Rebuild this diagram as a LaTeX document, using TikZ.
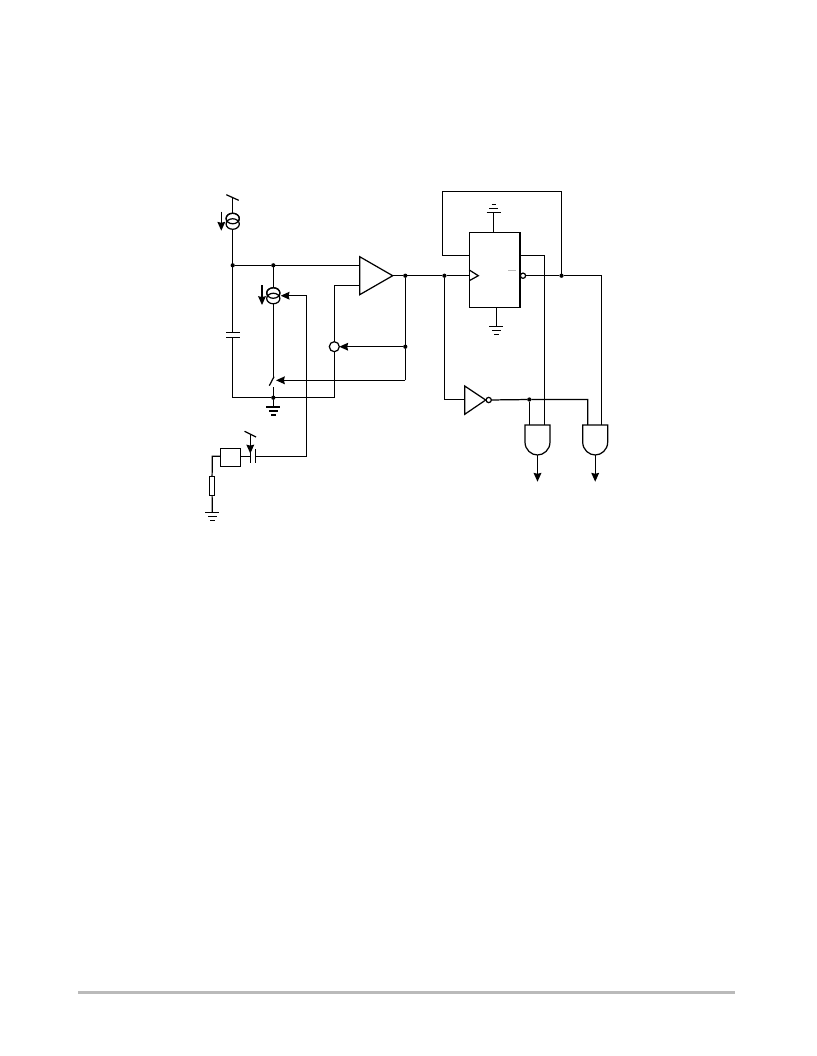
\documentclass[tikz,border=0pt]{standalone}
\usetikzlibrary{arrows.meta,shapes.geometric}
\definecolor{footgray}{gray}{0.73}
\tikzset{
    wire/.style={line width=0.7pt, line join=miter},
    flow/.style={wire, -{Stealth[length=5pt,width=4.4pt,inset=0.5pt]}},
    dot/.style={circle, fill=black, inner sep=0pt, outer sep=0pt, minimum size=0.085cm},
    ring/.style={ellipse, draw, wire, fill=white, inner sep=0pt, outer sep=0pt, minimum width=0.265cm, minimum height=0.21cm},
    bubble/.style={circle, draw, wire, fill=white, inner sep=0pt, outer sep=0pt, minimum size=0.105cm},
    bigbubble/.style={circle, draw, wire, fill=white, inner sep=0pt, outer sep=0pt, minimum size=0.2cm},
    box/.style={rectangle, draw, wire, fill=white, inner sep=0pt, outer sep=0pt},
    groundsym/.pic={
        \draw[wire] (-7,0) -- (7,0);
        \draw[wire] (-4.3,4) -- (4.3,4);
        \draw[wire] (-2.2,8) -- (2.2,8);
    },
    andgate/.pic={
        \draw[wire, fill=white] (-12.5,0) -- (12.5,0) -- (12.5,17)
            .. controls (12.5,25) and (6,30) .. (0,30)
            .. controls (-6,30) and (-12.5,25) .. (-12.5,17) -- cycle;
    },
}
\begin{document}
\begin{tikzpicture}[x=0.02cm, y=-0.02cm]
    \useasboundingbox (0,0) rectangle (816,1056);

    % Rail on the left with the first source
    \coordinate (vddA) at (232.7,197.5);
    \node[dot] (jTop) at (232.7,265.3) {};
    \node[dot] (jMid) at (273.3,265.3) {};
    \node[dot] (jGnd) at (273.3,397.7) {};
    \coordinate (cornerBL) at (232.7,397.7);
    \coordinate (capTop) at (232.7,332.3);
    \coordinate (capBot) at (232.7,337.3);
    \draw[wire] (vddA) -- (capTop);
    \draw[wire] (capBot) -- (cornerBL) -- (jGnd);
    \draw[wire] (226.3,197.5-2.8) -- (238.7,197.5+2.8);
    \draw[wire] (226,332.3) -- (240,332.3);
    \draw[wire] (226,337.3) -- (240,337.3);
    \node[ring] (srcAa) at (232.7,218.5) {};
    \node[ring] (srcAb) at (232.7,224) {};
    \draw[wire] (232.7,218.5) ellipse (6.6 and 5.25);
    \draw[flow] (221.3,211.7) -- (221.3,230.7);

    % Second source and the switch
    \coordinate (swTop) at (273.3,376.5);
    \coordinate (swBot) at (273.3,387.3);
    \draw[wire] (jMid) -- (swTop);
    \draw[wire] (swBot) -- (jGnd);
    \draw[wire] (269.3,385.7) -- (274,376.7);
    \node[ring] (srcBa) at (273.3,293) {};
    \node[ring] (srcBb) at (273.3,298.5) {};
    \draw[wire] (273.3,293) ellipse (6.6 and 5.25);
    \draw[flow] (262,285) -- (262,305);
    \coordinate (gndA) at (273.3,407);
    \draw[wire] (jGnd) -- (gndA);
    \pic at (gndA) {groundsym};

    % Comparator
    \coordinate (ampA) at (359.7,256.7);
    \coordinate (ampB) at (359.7,294.7);
    \coordinate (ampOut) at (392.7,275.7);
    \coordinate (ampPlus) at (359.7,265.3);
    \coordinate (ampMinus) at (359.7,285.7);
    \draw[wire] (ampA) -- (ampOut) -- (ampB) -- cycle;
    \node[dot] (jOut) at (405.3,275.7) {};
    \node[dot] (jFb) at (405.3,346.7) {};
    \node[bigbubble] (fbRing) at (334.3,346.7) {};
    \coordinate (minusUp) at (334.3,285.7);
    \coordinate (cornerBR) at (334.3,397.7);
    \coordinate (fbCorner) at (405.3,380.3);
    \coordinate (swArrow) at (276,380.3);
    \draw[wire] (jTop) -- (jMid) -- (ampPlus);
    \draw[wire] (ampMinus) -- (minusUp) -- (fbRing);
    \draw[wire] (fbRing) -- (cornerBR) -- (jGnd);
    \draw[wire] (ampOut) -- (jOut) -- (jFb) -- (fbCorner);
    \draw[flow] (jFb) -- (fbRing);
    \draw[flow] (fbCorner) -- (swArrow);

    % Timing network at the bottom
    \node[box, minimum width=0.408cm, minimum height=0.36cm] (timeBox) at (230.5,457.3) {};
    \coordinate (ctlCorner) at (306.7,456.3);
    \coordinate (ctlArrow) at (280.7,295.7);
    \coordinate (plateL) at (250.3,456.3);
    \coordinate (plateR) at (255.3,456.3);
    \coordinate (boxOut) at (240.7,456.3);
    \coordinate (boxIn) at (220.3,456.3);
    \coordinate (resCorner) at (212.3,456.3);
    \coordinate (gndB) at (212.3,512.3);
    \draw[wire] (boxOut) -- (plateL);
    \draw[wire] (250.3,449.3) -- (250.3,463.3);
    \draw[wire] (255.3,449.3) -- (255.3,463.3);
    \draw[flow] (ctlCorner) |- (ctlArrow);
    \draw[wire] (plateR) -- (ctlCorner);
    \draw[wire] (244.5,431.3) -- (256,437);
    \draw[flow] (250.3,434.2) -- (250.3,453.5);
    \node[box, minimum width=0.108cm, minimum height=0.38cm] (timeRes) at (212,485.8) {};
    \draw[wire] (boxIn) -- (resCorner) -- (timeRes);
    \draw[wire] (timeRes) -- (gndB);
    \pic at (gndB) {groundsym};

    % Flip-flop
    \node[box, minimum width=1.014cm, minimum height=1.5cm] (flop) at (494.65,269.8) {};
    \node[dot] (jClk) at (444.4,275.7) {};
    \node[dot] (jQ) at (561.5,275.7) {};
    \node[bubble] (qRing) at (523,275.7) {};
    \coordinate (clkIn) at (469.3,275.7);
    \coordinate (setIn) at (469.3,255.3);
    \coordinate (loopA) at (442.3,255.3);
    \coordinate (loopB) at (442.3,191.3);
    \coordinate (loopC) at (561.5,191.3);
    \draw[wire] (jOut) -- (jClk) -- (clkIn);
    \draw[wire] (469.3,270) -- (478.3,275.7) -- (469.3,280.7);
    \draw[wire] (setIn) -- (loopA) -- (loopB) -- (loopC) -- (jQ);
    \draw[wire, footgray] (508,270.3) -- (516.3,270.3);
    \coordinate (gndC) at (493.7,212.3);
    \coordinate (gndD) at (496.3,326.7);
    \draw[wire] (flop.north -| gndC) -- (gndC);
    \draw[wire] (flop.south -| gndD) -- (gndD);
    \pic[yscale=-1] at (gndC) {groundsym};
    \pic at (gndD) {groundsym};

    % Inverter and the two gates
    \node[dot] (jInv) at (529.3,399.5) {};
    \node[bubble] (invRing) at (488.7,400) {};
    \coordinate (invIn) at (464.7,399.5);
    \coordinate (clkCorner) at (444.4,399.5);
    \coordinate (gateAl) at (529.3,425);
    \coordinate (gateAr) at (544.5,425);
    \coordinate (gateAm) at (537.5,425);
    \coordinate (gateBl) at (587.7,425);
    \coordinate (gateBr) at (601.3,425);
    \coordinate (gateBm) at (595.2,425);
    \coordinate (topOut) at (520,255.3);
    \coordinate (topCorner) at (544.5,255.3);
    \coordinate (qCorner) at (601.3,275.7);
    \coordinate (invCorner) at (587.7,399.5);
    \draw[wire] (jClk) -- (clkCorner) -- (invIn);
    \draw[wire] (464.7,386) -- (485.7,400) -- (464.7,414.3) -- cycle;
    \draw[wire] (invRing) -- (jInv) -- (invCorner) -- (gateBl);
    \draw[wire] (jInv) -- (gateAl);
    \draw[wire] (topOut) -- (topCorner) -- (gateAr);
    \draw[wire] (qRing) -- (jQ) -- (qCorner) -- (gateBr);
    \pic at (gateAm) {andgate};
    \pic at (gateBm) {andgate};
    \draw[flow] (537.5,455) -- (537.5,481.7);
    \draw[flow] (595.2,455) -- (595.2,481.7);

    % Rule at the foot of the page
    \draw[footgray, line width=1.7pt] (78,992.5) -- (735,992.5);
\end{tikzpicture}
\end{document}
